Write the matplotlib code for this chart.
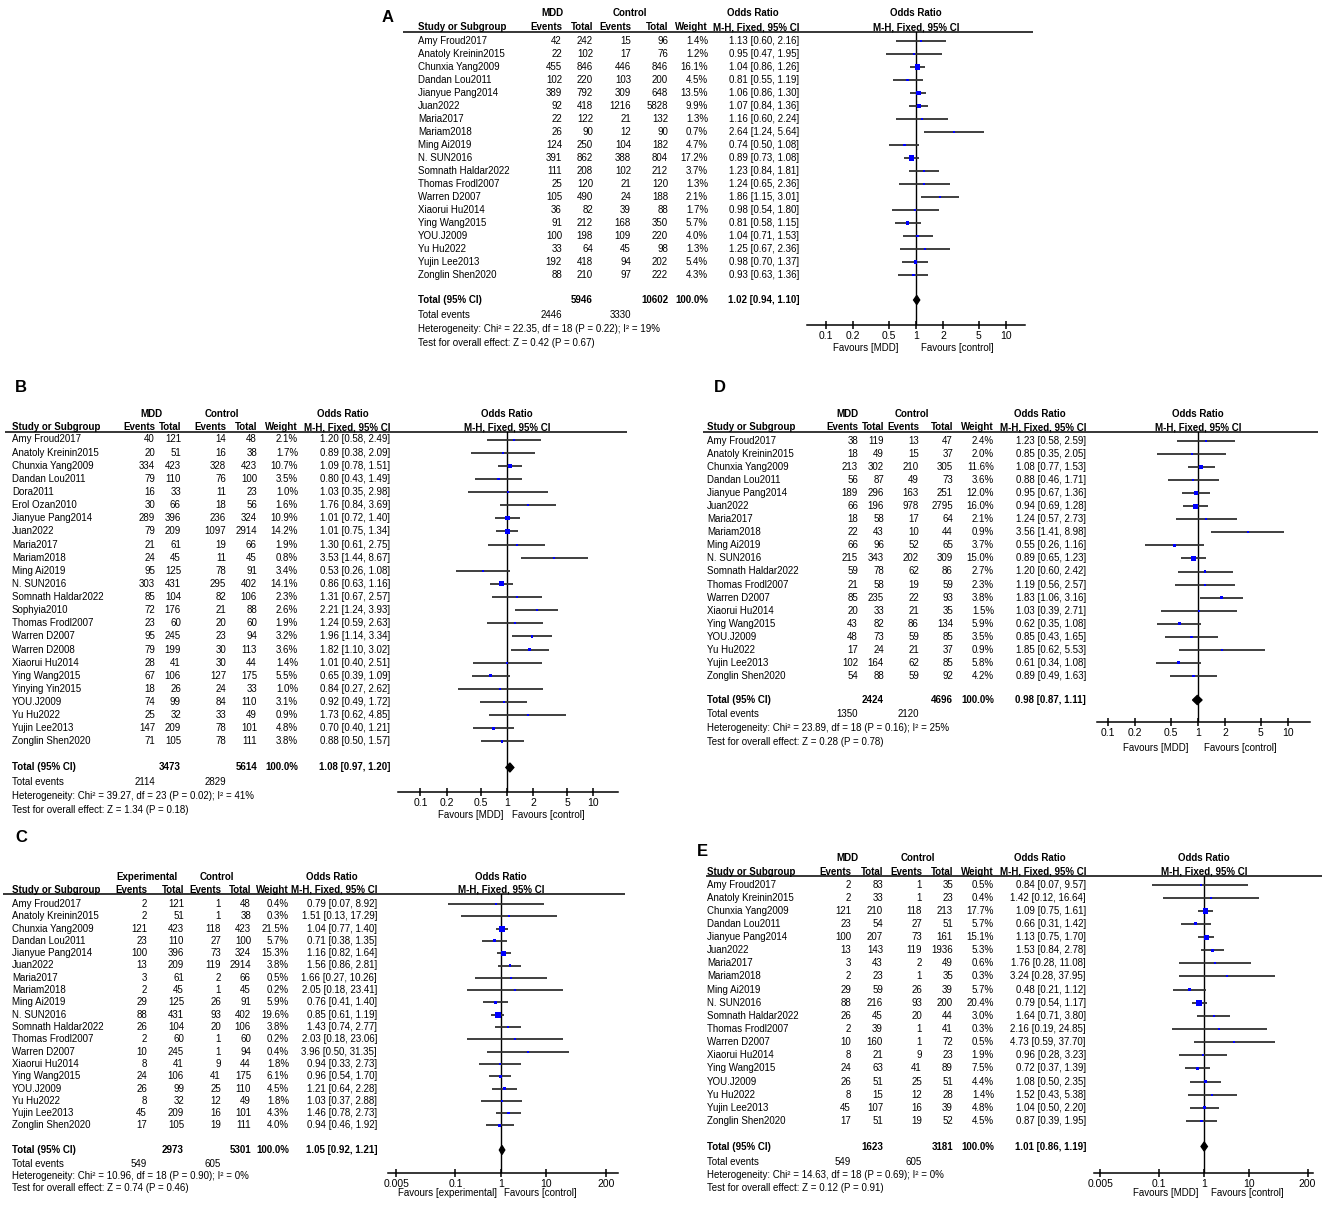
import matplotlib
matplotlib.use("Agg")
import matplotlib.pyplot as plt
from matplotlib.ticker import NullLocator
import numpy as np

plt.rcParams["font.family"] = ["Liberation Sans", "DejaVu Sans"]

W, H = 1325, 1213

# 研究名称
studies = ["Amy Froud2017", "Anatoly Kreinin2015", "Chunxia Yang2009", "Dandan Lou2011",
           "Jianyue Pang2014", "Juan2022", "Maria2017", "Mariam2018", "Ming Ai2019",
           "N. SUN2016", "Somnath Haldar2022", "Thomas Frodl2007", "Warren D2007",
           "Xiaorui Hu2014", "Ying Wang2015", "YOU.J2009", "Yu Hu2022", "Yujin Lee2013",
           "Zonglin Shen2020"]
studies_b = ["Amy Froud2017", "Anatoly Kreinin2015", "Chunxia Yang2009", "Dandan Lou2011",
             "Dora2011", "Erol Ozan2010", "Jianyue Pang2014", "Juan2022", "Maria2017",
             "Mariam2018", "Ming Ai2019", "N. SUN2016", "Somnath Haldar2022", "Sophyia2010",
             "Thomas Frodl2007", "Warren D2007", "Warren D2008", "Xiaorui Hu2014",
             "Ying Wang2015", "Yinying Yin2015", "YOU.J2009", "Yu Hu2022", "Yujin Lee2013",
             "Zonglin Shen2020"]

# A
a_ev1 = [42, 22, 455, 102, 389, 92, 22, 26, 124, 391, 111, 25, 105, 36, 91, 100, 33, 192, 88]
a_n1 = [242, 102, 846, 220, 792, 418, 122, 90, 250, 862, 208, 120, 490, 82, 212, 198, 64, 418, 210]
a_ev2 = [15, 17, 446, 103, 309, 1216, 21, 12, 104, 388, 102, 21, 24, 39, 168, 109, 45, 94, 97]
a_n2 = [96, 76, 846, 200, 648, 5828, 132, 90, 182, 804, 212, 120, 188, 88, 350, 220, 98, 202, 222]
a_w = [1.4, 1.2, 16.1, 4.5, 13.5, 9.9, 1.3, 0.7, 4.7, 17.2, 3.7, 1.3, 2.1, 1.7, 5.7, 4.0, 1.3, 5.4, 4.3]
a_or = [1.13, 0.95, 1.04, 0.81, 1.06, 1.07, 1.16, 2.64, 0.74, 0.89, 1.23, 1.24, 1.86, 0.98, 0.81, 1.04, 1.25, 0.98, 0.93]
a_lo = [0.60, 0.47, 0.86, 0.55, 0.86, 0.84, 0.60, 1.24, 0.50, 0.73, 0.84, 0.65, 1.15, 0.54, 0.58, 0.71, 0.67, 0.70, 0.63]
a_hi = [2.16, 1.95, 1.26, 1.19, 1.30, 1.36, 2.24, 5.64, 1.08, 1.08, 1.81, 2.36, 3.01, 1.80, 1.15, 1.53, 2.36, 1.37, 1.36]
a_total = [5946, 10602, 1.02, 0.94, 1.10, 2446, 3330]
a_stats = [22.35, 18, 0.22, 19, 0.42, 0.67]

# B
b_ev1 = [40, 20, 334, 79, 16, 30, 289, 79, 21, 24, 95, 303, 85, 72, 23, 95, 79, 28, 67, 18, 74, 25, 147, 71]
b_n1 = [121, 51, 423, 110, 33, 66, 396, 209, 61, 45, 125, 431, 104, 176, 60, 245, 199, 41, 106, 26, 99, 32, 209, 105]
b_ev2 = [14, 16, 328, 76, 11, 18, 236, 1097, 19, 11, 78, 295, 82, 21, 20, 23, 30, 30, 127, 24, 84, 33, 78, 78]
b_n2 = [48, 38, 423, 100, 23, 56, 324, 2914, 66, 45, 91, 402, 106, 88, 60, 94, 113, 44, 175, 33, 110, 49, 101, 111]
b_w = [2.1, 1.7, 10.7, 3.5, 1.0, 1.6, 10.9, 14.2, 1.9, 0.8, 3.4, 14.1, 2.3, 2.6, 1.9, 3.2, 3.6, 1.4, 5.5, 1.0, 3.1, 0.9, 4.8, 3.8]
b_or = [1.20, 0.89, 1.09, 0.80, 1.03, 1.76, 1.01, 1.01, 1.30, 3.53, 0.53, 0.86, 1.31, 2.21, 1.24, 1.96, 1.82, 1.01, 0.65, 0.84, 0.92, 1.73, 0.70, 0.88]
b_lo = [0.58, 0.38, 0.78, 0.43, 0.35, 0.84, 0.72, 0.75, 0.61, 1.44, 0.26, 0.63, 0.67, 1.24, 0.59, 1.14, 1.10, 0.40, 0.39, 0.27, 0.49, 0.62, 0.40, 0.50]
b_hi = [2.49, 2.09, 1.51, 1.49, 2.98, 3.69, 1.40, 1.34, 2.75, 8.67, 1.08, 1.16, 2.57, 3.93, 2.63, 3.34, 3.02, 2.51, 1.09, 2.62, 1.72, 4.85, 1.21, 1.57]
b_total = [3473, 5614, 1.08, 0.97, 1.20, 2114, 2829]
b_stats = [39.27, 23, 0.02, 41, 1.34, 0.18]

# C
c_ev1 = [2, 2, 121, 23, 100, 13, 3, 2, 29, 88, 26, 2, 10, 8, 24, 26, 8, 45, 17]
c_n1 = [121, 51, 423, 110, 396, 209, 61, 45, 125, 431, 104, 60, 245, 41, 106, 99, 32, 209, 105]
c_ev2 = [1, 1, 118, 27, 73, 119, 2, 1, 26, 93, 20, 1, 1, 9, 41, 25, 12, 16, 19]
c_n2 = [48, 38, 423, 100, 324, 2914, 66, 45, 91, 402, 106, 60, 94, 44, 175, 110, 49, 101, 111]
c_w = [0.4, 0.3, 21.5, 5.7, 15.3, 3.8, 0.5, 0.2, 5.9, 19.6, 3.8, 0.2, 0.4, 1.8, 6.1, 4.5, 1.8, 4.3, 4.0]
c_or = [0.79, 1.51, 1.04, 0.71, 1.16, 1.56, 1.66, 2.05, 0.76, 0.85, 1.43, 2.03, 3.96, 0.94, 0.96, 1.21, 1.03, 1.46, 0.94]
c_lo = [0.07, 0.13, 0.77, 0.38, 0.82, 0.86, 0.27, 0.18, 0.41, 0.61, 0.74, 0.18, 0.50, 0.33, 0.54, 0.64, 0.37, 0.78, 0.46]
c_hi = [8.92, 17.29, 1.40, 1.35, 1.64, 2.81, 10.26, 23.41, 1.40, 1.19, 2.77, 23.06, 31.35, 2.73, 1.70, 2.28, 2.88, 2.73, 1.92]
c_total = [2973, 5301, 1.05, 0.92, 1.21, 549, 605]
c_stats = [10.96, 18, 0.90, 0, 0.74, 0.46]

# D
d_ev1 = [38, 18, 213, 56, 189, 66, 18, 22, 66, 215, 59, 21, 85, 20, 43, 48, 17, 102, 54]
d_n1 = [119, 49, 302, 87, 296, 196, 58, 43, 96, 343, 78, 58, 235, 33, 82, 73, 24, 164, 88]
d_ev2 = [13, 15, 210, 49, 163, 978, 17, 10, 52, 202, 62, 19, 22, 21, 86, 59, 21, 62, 59]
d_n2 = [47, 37, 305, 73, 251, 2795, 64, 44, 65, 309, 86, 59, 93, 35, 134, 85, 37, 85, 92]
d_w = [2.4, 2.0, 11.6, 3.6, 12.0, 16.0, 2.1, 0.9, 3.7, 15.0, 2.7, 2.3, 3.8, 1.5, 5.9, 3.5, 0.9, 5.8, 4.2]
d_or = [1.23, 0.85, 1.08, 0.88, 0.95, 0.94, 1.24, 3.56, 0.55, 0.89, 1.20, 1.19, 1.83, 1.03, 0.62, 0.85, 1.85, 0.61, 0.89]
d_lo = [0.58, 0.35, 0.77, 0.46, 0.67, 0.69, 0.57, 1.41, 0.26, 0.65, 0.60, 0.56, 1.06, 0.39, 0.35, 0.43, 0.62, 0.34, 0.49]
d_hi = [2.59, 2.05, 1.53, 1.71, 1.36, 1.28, 2.73, 8.98, 1.16, 1.23, 2.42, 2.57, 3.16, 2.71, 1.08, 1.65, 5.53, 1.08, 1.63]
d_total = [2424, 4696, 0.98, 0.87, 1.11, 1350, 2120]
d_stats = [23.89, 18, 0.16, 25, 0.28, 0.78]

# E
e_ev1 = [2, 2, 121, 23, 100, 13, 3, 2, 29, 88, 26, 2, 10, 8, 24, 26, 8, 45, 17]
e_n1 = [83, 33, 210, 54, 207, 143, 43, 23, 59, 216, 45, 39, 160, 21, 63, 51, 15, 107, 51]
e_ev2 = [1, 1, 118, 27, 73, 119, 2, 1, 26, 93, 20, 1, 1, 9, 41, 25, 12, 16, 19]
e_n2 = [35, 23, 213, 51, 161, 1936, 49, 35, 39, 200, 44, 41, 72, 23, 89, 51, 28, 39, 52]
e_w = [0.5, 0.4, 17.7, 5.7, 15.1, 5.3, 0.6, 0.3, 5.7, 20.4, 3.0, 0.3, 0.5, 1.9, 7.5, 4.4, 1.4, 4.8, 4.5]
e_or = [0.84, 1.42, 1.09, 0.66, 1.13, 1.53, 1.76, 3.24, 0.48, 0.79, 1.64, 2.16, 4.73, 0.96, 0.72, 1.08, 1.52, 1.04, 0.87]
e_lo = [0.07, 0.12, 0.75, 0.31, 0.75, 0.84, 0.28, 0.28, 0.21, 0.54, 0.71, 0.19, 0.59, 0.28, 0.37, 0.50, 0.43, 0.50, 0.39]
e_hi = [9.57, 16.64, 1.61, 1.42, 1.70, 2.78, 11.08, 37.95, 1.12, 1.17, 3.80, 24.85, 37.70, 3.23, 1.39, 2.35, 5.38, 2.20, 1.95]
e_total = [1623, 3181, 1.01, 0.86, 1.19, 549, 605]
e_stats = [14.63, 18, 0.69, 0, 0.12, 0.91]

ticks_narrow = [0.1, 0.2, 0.5, 1, 2, 5, 10]
ticks_wide = [0.005, 0.1, 1, 10, 200]

# 各面板的位置 (像素)
lay_a = dict(name="A", label=(382, 17), sx=418, cols=[562, 593, 631, 668, 708, 799],
             g=[552, 630, 753], h1=13, h2=27, line=(403, 1033, 32), row0=41, step=13.0,
             tot=300, ev=315, het=329, test=343, pc=916, ppd=90, axx=(807, 1025), axy=325,
             favy=348, fav=(866, 957), ticks=ticks_narrow, g1="MDD", fl="Favours [MDD]")
lay_b = dict(name="B", label=(15, 388), sx=12, cols=[155, 181, 226, 257, 298, 390],
             g=[151, 222, 343], h1=414, h2=427, line=(5, 627, 432), row0=439.5, step=13.13,
             tot=767.5, ev=782, het=796, test=810, pc=507, ppd=86.5, axx=(398, 618), axy=792,
             favy=815, fav=(471, 548), ticks=ticks_narrow, g1="MDD", fl="Favours [MDD]")
lay_c = dict(name="C", label=(15, 838), sx=12, cols=[147, 184, 221, 251, 289, 377],
             g=[147, 217, 332], h1=877, h2=890, line=(3, 625, 894), row0=904, step=12.3,
             tot=1150, ev=1164, het=1176, test=1188, pc=501, ppd=45.5, axx=(388, 618), axy=1173,
             favy=1193, fav=(448, 540), ticks=ticks_wide, g1="Experimental",
             fl="Favours [experimental]")
lay_d = dict(name="D", label=(714, 388), sx=707, cols=[858, 884, 919, 953, 994, 1086],
             g=[847, 912, 1040], h1=414, h2=427, line=(703, 1318, 432), row0=441, step=13.05,
             tot=700, ev=714, het=728, test=742, pc=1198, ppd=90, axx=(1097, 1310), axy=722,
             favy=748, fav=(1156, 1240), ticks=ticks_narrow, g1="MDD", fl="Favours [MDD]")
lay_e = dict(name="E", label=(697, 852), sx=707, cols=[851, 883, 922, 953, 994, 1086],
             g=[847, 918, 1040], h1=858, h2=872, line=(706, 1322, 876), row0=884.5, step=13.14,
             tot=1146.5, ev=1162, het=1175, test=1188, pc=1204, ppd=45, axx=(1094, 1313), axy=1173,
             favy=1193, fav=(1166, 1247), ticks=ticks_wide, g1="MDD", fl="Favours [MDD]")

FS = 7


def txt(bg, x, y, s, ha="left", bold=False, size=FS):
    bg.text(x, y, s, ha=ha, va="center", fontsize=size,
            fontweight="bold" if bold else "normal", color="black")


def forest(fig, bg, lay, names, ev1, n1, ev2, n2, w, orr, lo, hi, total, stats):
    c = lay["cols"]
    sx = lay["sx"]
    txt(bg, lay["label"][0], lay["label"][1], lay["name"], bold=True, size=12)
    # 表头
    txt(bg, lay["g"][0], lay["h1"], lay["g1"], "center", True)
    txt(bg, lay["g"][1], lay["h1"], "Control", "center", True)
    txt(bg, lay["g"][2], lay["h1"], "Odds Ratio", "center", True)
    txt(bg, lay["pc"], lay["h1"], "Odds Ratio", "center", True)
    txt(bg, sx, lay["h2"], "Study or Subgroup", "left", True)
    for cx, s in zip(c, ["Events", "Total", "Events", "Total", "Weight", "M-H, Fixed, 95% CI"]):
        txt(bg, cx, lay["h2"], s, "right", True)
    txt(bg, lay["pc"], lay["h2"], "M-H, Fixed, 95% CI", "center", True)
    x0, x1, ly = lay["line"]
    bg.plot([x0, x1], [ly, ly], color="black", lw=1.1, solid_capstyle="butt")

    ys = lay["row0"] + lay["step"] * np.arange(len(names))
    for i in range(len(names)):
        txt(bg, sx, ys[i], names[i])
        vals = [str(ev1[i]), str(n1[i]), str(ev2[i]), str(n2[i]), "%.1f%%" % w[i],
                "%.2f [%.2f, %.2f]" % (orr[i], lo[i], hi[i])]
        for cx, s in zip(c, vals):
            txt(bg, cx, ys[i], s, "right")

    # 合计
    tn1, tn2, tor, tlo, thi, tev1, tev2 = total
    ty = lay["tot"]
    txt(bg, sx, ty, "Total (95% CI)", "left", True)
    txt(bg, c[1], ty, str(tn1), "right", True)
    txt(bg, c[3], ty, str(tn2), "right", True)
    txt(bg, c[4], ty, "100.0%", "right", True)
    txt(bg, c[5], ty, "%.2f [%.2f, %.2f]" % (tor, tlo, thi), "right", True)
    txt(bg, sx, lay["ev"], "Total events")
    txt(bg, c[0], lay["ev"], str(tev1), "right")
    txt(bg, c[2], lay["ev"], str(tev2), "right")
    chi2, df, ph, i2, z, pz = stats
    txt(bg, sx, lay["het"], "Heterogeneity: Chi\u00b2 = %.2f, df = %d (P = %.2f); I\u00b2 = %d%%" % (chi2, df, ph, i2))
    txt(bg, sx, lay["test"], "Test for overall effect: Z = %.2f (P = %.2f)" % (z, pz))

    # 森林图
    ax0, ax1 = lay["axx"]
    axy = lay["axy"]
    ax = fig.add_axes([ax0 / W, 1 - axy / H, (ax1 - ax0) / W, (axy - ly) / H])
    ax.set_facecolor("none")
    ax.set_xscale("log")
    pc, ppd = lay["pc"], lay["ppd"]
    ax.set_xlim(10 ** ((ax0 - pc) / ppd), 10 ** ((ax1 - pc) / ppd))
    ax.set_ylim(axy, ly)
    for sp in ["top", "left", "right"]:
        ax.spines[sp].set_visible(False)
    ax.spines["bottom"].set_linewidth(1.1)
    ax.set_yticks([])
    ax.set_xticks(lay["ticks"])
    ax.set_xticklabels(["%g" % t for t in lay["ticks"]])
    ax.xaxis.set_minor_locator(NullLocator())
    ax.tick_params(axis="x", direction="inout", length=6, width=1.1, pad=1.5, labelsize=FS + 0.5)

    ax.axvline(1, color="black", lw=1.0, zorder=1)
    ax.hlines(ys, lo, hi, color="#303030", lw=1.3, zorder=2)
    side = np.maximum(2.0, 1.3 * np.sqrt(w)) * 0.72
    ax.scatter(orr, ys, s=side ** 2, marker="s", color="#0000ff", linewidths=0, zorder=3)
    ax.fill([tlo, tor, thi, tor], [ty, ty - 4.5, ty, ty + 4.5], color="black", zorder=3)

    txt(bg, lay["fav"][0], lay["favy"], lay["fl"], "center")
    txt(bg, lay["fav"][1], lay["favy"], "Favours [control]", "center")


fig = plt.figure(figsize=(W / 100, H / 100), dpi=100)
bg = fig.add_axes([0, 0, 1, 1])
bg.set_xlim(0, W)
bg.set_ylim(H, 0)
bg.axis("off")

forest(fig, bg, lay_a, studies, a_ev1, a_n1, a_ev2, a_n2, a_w, a_or, a_lo, a_hi, a_total, a_stats)
forest(fig, bg, lay_b, studies_b, b_ev1, b_n1, b_ev2, b_n2, b_w, b_or, b_lo, b_hi, b_total, b_stats)
forest(fig, bg, lay_c, studies, c_ev1, c_n1, c_ev2, c_n2, c_w, c_or, c_lo, c_hi, c_total, c_stats)
forest(fig, bg, lay_d, studies, d_ev1, d_n1, d_ev2, d_n2, d_w, d_or, d_lo, d_hi, d_total, d_stats)
forest(fig, bg, lay_e, studies, e_ev1, e_n1, e_ev2, e_n2, e_w, e_or, e_lo, e_hi, e_total, e_stats)

fig.savefig("out.png", dpi=100)
